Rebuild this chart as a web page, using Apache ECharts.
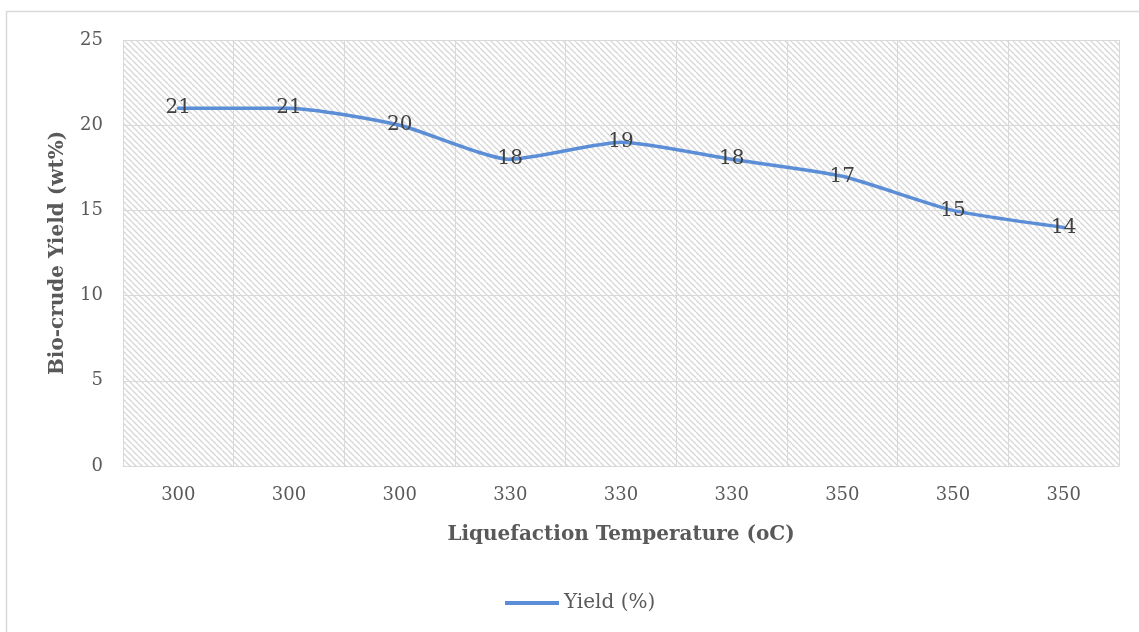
<!DOCTYPE html>
<html><head><meta charset="utf-8">
<script src="https://cdn.jsdelivr.net/npm/echarts@6/dist/echarts.min.js"></script>
<style>html,body{margin:0;padding:0;background:#fff}#c{width:1139px;height:632px}</style>
</head><body><div id="c"></div>
<script>
const categories = ['300','300','300','330','330','330','350','350','350'];
const yieldValues = [21, 21, 20, 18, 19, 18, 17, 15, 14];
const seriesName = 'Yield (%)';

const pc = document.createElement('canvas');
pc.width = 6; pc.height = 6;
const g = pc.getContext('2d');
g.fillStyle = '#ffffff'; g.fillRect(0,0,6,6);
g.strokeStyle = '#d6d6d6'; g.lineWidth = 1.3;
for (let k=-1;k<=1;k++){ g.beginPath(); g.moveTo(k*6,0); g.lineTo(k*6+6,6); g.stroke(); }

const font = 'DejaVu Serif';
const lineColor = '#5b8ed6';
const chart = echarts.init(document.getElementById('c'));
chart.setOption({
  animation:false,
  graphic:[{type:'rect',shape:{x:6.5,y:11.5,width:1160,height:660},style:{fill:null,stroke:'#d9d9d9',lineWidth:1.5},silent:true}],
  grid:{left:123,right:20,top:40,bottom:166,show:true,backgroundColor:{image:pc,repeat:'repeat'},borderWidth:0},
  legend:{show:true,bottom:14,left:500,itemWidth:54,itemHeight:4,itemGap:6,
    icon:'path://M0,0 L54,0 L54,4 L0,4 Z',
    itemStyle:{color:lineColor,opacity:1,borderWidth:0},
    textStyle:{fontFamily:font,fontSize:20,color:'#595959'},data:[seriesName]},
  xAxis:{type:'category',data:categories,boundaryGap:true,
    name:'Liquefaction Temperature (oC)',nameLocation:'middle',nameGap:59,
    nameTextStyle:{fontFamily:font,fontSize:20,fontWeight:'bold',color:'#595959'},
    axisLine:{lineStyle:{color:'#d9d9d9',width:1}},axisTick:{show:false},
    axisLabel:{fontFamily:font,fontSize:18,color:'#595959',margin:20},
    splitLine:{show:true,lineStyle:{color:'#d9d9d9',width:1}}},
  yAxis:{type:'value',min:0,max:25,interval:5,
    name:'Bio-crude Yield (wt%)',nameLocation:'middle',nameGap:55,
    nameTextStyle:{fontFamily:font,fontSize:20,fontWeight:'bold',color:'#595959'},
    axisLine:{show:false},axisTick:{show:false},
    axisLabel:{fontFamily:font,fontSize:18,color:'#595959',margin:20},
    splitLine:{show:true,lineStyle:{color:'#d9d9d9',width:1}}},
  series:[{name:seriesName,type:'line',data:yieldValues,smooth:0.2,
    showSymbol:true,symbol:'circle',symbolSize:1,
    lineStyle:{color:lineColor,width:3.5,cap:'round'},itemStyle:{color:'rgba(0,0,0,0)'},
    label:{show:true,position:'inside',fontFamily:font,fontSize:20,color:'#404040'}}]
});
</script></body></html>
